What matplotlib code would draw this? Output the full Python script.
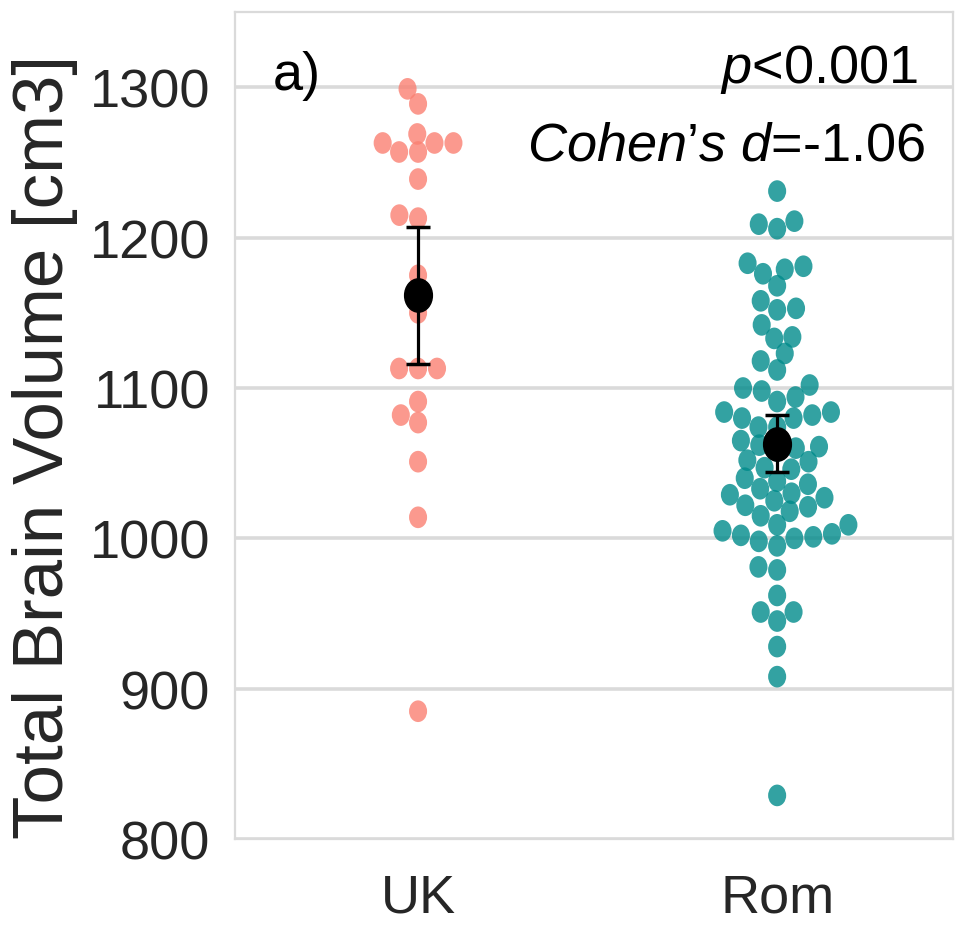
import numpy as np
import matplotlib
matplotlib.use("Agg")
import matplotlib.pyplot as plt
from matplotlib.path import Path
from matplotlib.transforms import Affine2D
from matplotlib.collections import PathCollection
import seaborn as sns

# ---- data -------------------------------------------------------------
groups = ["UK", "Rom"]

uk_volume = [1299, 1289, 1269, 1263, 1263, 1263, 1257, 1257, 1239, 1215,
             1213, 1175, 1150, 1113, 1113, 1113, 1091, 1082, 1077, 1051,
             1014, 885]

rom_volume = [1231,
              1209, 1206, 1211,
              1183, 1176, 1181, 1179,
              1168,
              1158, 1152, 1153,
              1142, 1133, 1134,
              1123, 1118, 1112,
              1102, 1100, 1098,
              1094, 1091,
              1084, 1082, 1084,
              1080, 1080, 1074, 1074,
              1065, 1062, 1058,
              1060, 1061, 1052, 1051, 1046, 1047, 1038,
              1040, 1036, 1033, 1030, 1029, 1027, 1025, 1022, 1021, 1018, 1015,
              1009, 1009, 1005, 1003, 1002, 1001, 1000, 998, 995,
              981, 979,
              962,
              951, 951, 945,
              928,
              908,
              829]

group_mean = [1162, 1063]
ci_low = [1116, 1044]
ci_high = [1207, 1082]

y_ticks = [800, 900, 1000, 1100, 1200, 1300]
p_text = r"$\mathit{p}$<0.001"
d_text = r"$\mathit{Cohen’s\ d}$=-1.06"
panel_label = "a)"

colors = ["salmon", "darkcyan"]

# ---- style ------------------------------------------------------------
plt.rcParams["font.family"] = ["Liberation Sans", "DejaVu Sans"]
plt.rcParams["mathtext.fontset"] = "custom"
plt.rcParams["mathtext.rm"] = "Liberation Sans"
plt.rcParams["mathtext.it"] = "Liberation Sans:italic"

fs = 39
grid_col = "#dadada"
stretch = 1.2  # markers are slightly taller than wide

fig = plt.figure(figsize=(9.55, 9.29), dpi=100)
ax = fig.add_axes([0.246, 0.0958, 0.752, 0.890])

xs = [groups[0]] * len(uk_volume) + [groups[1]] * len(rom_volume)
ys = uk_volume + rom_volume
sns.swarmplot(x=xs, y=ys, hue=xs, order=groups, hue_order=groups,
              palette=colors, size=13, alpha=0.8, linewidth=0,
              legend=False, ax=ax, zorder=3)

# oval dot shape, same width as the swarm's circles
oval = Path.unit_circle().transformed(Affine2D().scale(0.5, 0.5 * stretch))
for coll in ax.collections:
    if isinstance(coll, PathCollection):
        coll.set_paths([oval])

yerr = [np.array(group_mean) - np.array(ci_low),
        np.array(ci_high) - np.array(group_mean)]
ax.errorbar(range(len(groups)), group_mean, yerr=yerr, fmt="none",
            ecolor="black", capsize=8.3, elinewidth=2.3,
            capthick=2.5, zorder=5)
mean_marker = Path.unit_circle().transformed(Affine2D().scale(1 / stretch, 1))
ax.plot(range(len(groups)), group_mean, linestyle="none",
        marker=mean_marker, ms=24, color="black", zorder=6)

ax.set_xlim(-0.51, 1.49)
ax.set_ylim(800, 1350)
ax.set_yticks(y_ticks)
ax.set_xticks(range(len(groups)))
ax.set_xticklabels(groups)
ax.grid(axis="y", color=grid_col, linewidth=2.6, zorder=0)
ax.grid(axis="x", visible=False)
ax.set_axisbelow(True)
for s in ax.spines.values():
    s.set_color(grid_col)
    s.set_linewidth(1.6)

ax.tick_params(axis="both", length=0, labelsize=fs, colors="#262626")
ax.tick_params(axis="y", pad=18)
ax.tick_params(axis="x", pad=24)

ax.set_ylabel("Total Brain Volume [cm3]", fontsize=51, color="#262626")
ax.yaxis.set_label_coords(-0.219, 0.475)

ax.text(0.951, 0.915, p_text, transform=ax.transAxes, ha="right",
        va="baseline", fontsize=fs, color="black")
ax.text(0.961, 0.822, d_text, transform=ax.transAxes, ha="right",
        va="baseline", fontsize=fs, color="black")
ax.text(0.053, 0.907, panel_label, transform=ax.transAxes, ha="left",
        va="baseline", fontsize=fs, color="black")

fig.savefig("out.png", dpi=100)
